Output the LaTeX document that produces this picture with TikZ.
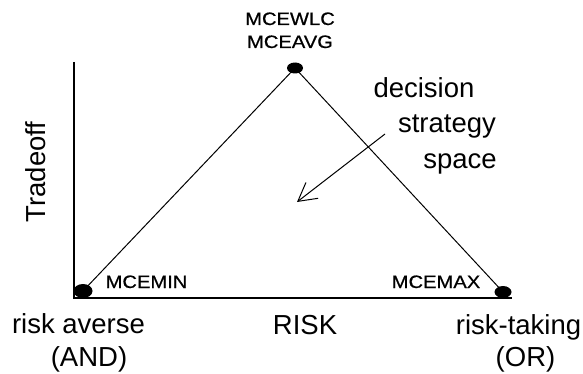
\documentclass[tikz,border=0pt]{standalone}
\usepackage{fontspec}
\setmainfont{Liberation Sans}
\usetikzlibrary{arrows.meta}
\tikzset{
  big/.style={font=\fontsize{27.5}{30}\selectfont, inner sep=0pt, anchor=base},
  small/.style={font=\fontsize{18}{20}\selectfont\addfontfeature{FakeBold=0.6}, inner sep=0pt, anchor=base},
  axis/.style={line width=1.8pt},
  edge/.style={line width=1pt}
}
\newcommand{\wide}[1]{\scalebox{1.12}[1]{#1}}
\begin{document}
\begin{tikzpicture}[x=1pt,y=1pt]
\useasboundingbox (0,0) rectangle (583,373);
% axes
\coordinate (top) at (74,311);
\coordinate (orig) at (74,75);
\coordinate (xend) at (512,75);
\draw[axis] (top) -- (orig) -- (xend);
% triangle vertices
\coordinate (A) at (295,305);
\coordinate (L) at (83,82);
\coordinate (R) at (503,81);
\draw[edge] (L) -- (A) -- (R);
\fill (A) ellipse[x radius=8, y radius=5.5];
\fill (L) ellipse[x radius=9.5, y radius=7];
\fill (R) ellipse[x radius=8.5, y radius=6];
% labels
\node[small] (wlc) at (290,348) {\wide{MCEWLC}};
\node[small] (avg) at (290,325) {\wide{MCEAVG}};
\node[small] (min) at (146.5,85) {\wide{MCEMIN}};
\node[small] (max) at (436,85) {\wide{MCEMAX}};
\node[big] (dec) at (424,276) {decision};
\node[big] (str) at (447,241) {strategy};
\node[big] (spa) at (460,205) {space};
\node[big, rotate=90] (trd) at (45,201) {Tradeoff};
\node[big] (ra) at (78.5,40) {risk averse};
\node[big] (and) at (89,7) {(AND)};
\node[big] (risk) at (305,39) {RISK};
\node[big] (rt) at (518.5,39) {risk-taking};
\node[big] (or) at (525.5,7) {(OR)};
% arrow
\coordinate (arrS) at (385,239);
\coordinate (arrE) at (297,171);
\draw[edge, -{Straight Barb[length=18pt,width=20pt]}] (arrS) -- (arrE);
\end{tikzpicture}
\end{document}
